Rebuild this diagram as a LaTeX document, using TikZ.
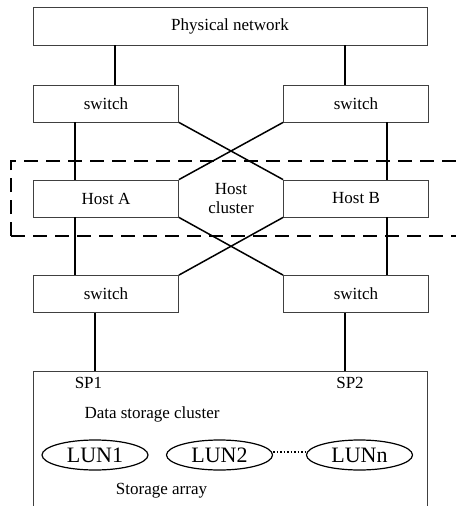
\documentclass[tikz,border=0pt]{standalone}
\usepackage{fontspec}
\setmainfont{Liberation Serif}
\usetikzlibrary{positioning, shapes.geometric}

\begin{document}
\begin{tikzpicture}[x=1pt, y=-1pt,
    box/.style={draw=black!75, line width=0.8pt, minimum width=145pt, minimum height=37pt, inner sep=0pt, font=\fontsize{17}{19}\selectfont},
    link/.style={line width=1.5pt},
    lun/.style={ellipse, draw, line width=1.2pt, minimum width=106pt, minimum height=30pt, inner sep=0pt, font=\fontsize{22}{24}\selectfont},
    label/.style={font=\fontsize{17}{19}\selectfont, align=center, inner sep=0pt},
    cluster/.style={line width=1.6pt, dash pattern=on 14pt off 8pt}]
    \useasboundingbox (0,0) rectangle (456,506);

    \node (net) at (230,26) [box, minimum width=394pt, minimum height=38pt] {Physical network};

    \foreach \s/\x/\h/\o in {L/106/A/-31, R/356/B/31}
    {
        \node (swT\s) at (\x,103.5) [box] {switch};
        \node (host\s) at (\x,198.5) [box] {Host \h};
        \node (swB\s) at (\x,294) [box] {switch};

        \draw[link] ([xshift=\o pt]swT\s.south) -- ([xshift=\o pt]swT\s.south |- host\s.north);
        \draw[link] ([xshift=\o pt]host\s.south) -- ([xshift=\o pt]host\s.south |- swB\s.north);
    }

    \node (hc) at (231,198.5) [label] {Host\\cluster};

    \draw[link] ([xshift=9pt]swTL.north) -- ([xshift=9pt]swTL.north |- net.south);
    \draw[link] ([xshift=-11pt]swTR.north) -- ([xshift=-11pt]swTR.north |- net.south);

    \draw[link] (swTL.south east) -- (hostR.north west);
    \draw[link] (swTR.south west) -- (hostL.north east);
    \draw[link] (hostL.south east) -- (swBR.north west);
    \draw[link] (hostR.south west) -- (swBL.north east);

    % host cluster
    \draw[cluster] (11,236) -- (11,161) -- (456,161);
    \draw[cluster] (11,236) -- (456,236);

    % storage array
    \coordinate (store) at (230,371);
    \draw[draw=black!75, line width=0.8pt] (33,507) |- (427,371) -- (427,507);
    \draw[link] ([xshift=-11pt]swBL.south) -- ([xshift=-11pt]swBL.south |- store);
    \draw[link] ([xshift=-11pt]swBR.south) -- ([xshift=-11pt]swBR.south |- store);

    \node (sp1) at (88.5,383) [label] {SP1};
    \node (sp2) at (350,383) [label] {SP2};
    \node (dsc) at (152,414) [label] {Data storage cluster};

    \node (L1) at (95,455) [lun] {LUN1};
    \node (L2) at (219.5,455) [lun] {LUN2};
    \node (Ln) at (359.5,455) [lun] {LUNn};
    \draw[line width=1.5pt, dotted] ([yshift=3pt]L2.east) -- ([yshift=3pt]Ln.west);

    \node (sa) at (161.5,491) [label] {Storage array};
\end{tikzpicture}
\end{document}
